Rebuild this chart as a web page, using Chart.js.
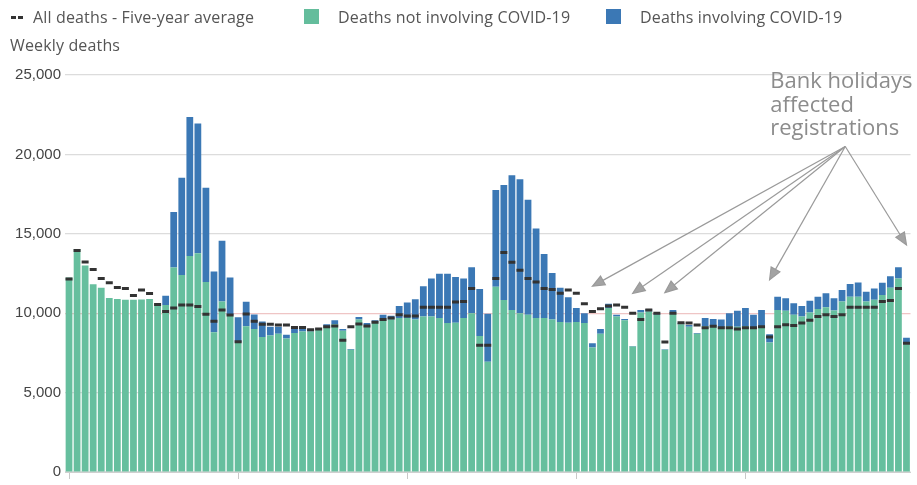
<!DOCTYPE html>
<html><head><meta charset="utf-8">
<script src="https://cdn.jsdelivr.net/npm/chart.js@4"></script>
<style>
html,body{margin:0;padding:0;background:#fff;overflow:hidden;}
#wrap{position:relative;width:917px;height:485px;}
canvas{position:absolute;left:0;top:0;}
.leg{position:absolute;font-family:"Open Sans",sans-serif;font-size:16px;letter-spacing:0.15px;color:#555;line-height:18px;white-space:nowrap;}
.sw{position:absolute;width:15px;height:15px;}
.dash{position:absolute;height:3px;width:5px;background:#333;}
</style></head>
<body><div id="wrap">
<canvas id="c" width="917" height="485"></canvas>
<div class="dash" style="left:11px;top:16px"></div>
<div class="dash" style="left:18px;top:16px"></div>
<div class="leg" id="l0" style="left:33px;top:8px"></div>
<div class="sw" style="left:304px;top:9px;background:#64bd9c"></div>
<div class="leg" id="l1" style="left:338px;top:8px"></div>
<div class="sw" style="left:606px;top:9px;background:#3b78b5"></div>
<div class="leg" id="l2" style="left:640px;top:8px"></div>
<div class="leg" id="yt" style="left:10px;top:36px"></div>
</div>
<script>
const years = [2020, 2021];
const weeksInYear = [53, 52];
const categories = [];
years.forEach((yr, i) => { for (let w = 1; w <= weeksInYear[i]; w++) categories.push(yr + ' week ' + w); });

const seriesLabels = ['All deaths - Five-year average', 'Deaths not involving COVID-19', 'Deaths involving COVID-19'];
const yAxisTitle = 'Weekly deaths';

const notCovid = [
 12250,14040,13000,11830,11600,10950,10900,10840,10840,10860,
 10900,10620,10520,12870,12400,13600,13780,11970,8800,10740,
 9860,8150,9180,9000,8500,8600,8700,8400,8750,8850,
 8850,8950,9200,9300,8900,7700,9600,9250,9400,9700,
 9600,9700,9700,9600,9800,9800,9700,9390,9400,9700,
 10000,8560,6950,11660,10830,10200,10000,9900,9700,9700,
 9600,9450,9400,9450,9390,7840,8700,10320,9800,9560,
 7900,10050,10100,9900,7700,10050,9300,9150,8700,9180,
 9200,9100,9200,9150,9200,9100,9150,8150,10200,10150,
 9900,9800,10050,10260,10380,10170,10730,11040,11040,10730,
 10840,11150,11600,12180,8040];

const covid = [
 0,0,0,0,0,0,0,0,0,0,
 0,0,580,3500,6130,8750,8170,5930,3830,3830,
 2390,1600,1540,920,970,550,450,250,300,250,
 150,100,100,250,100,50,160,140,150,200,
 240,760,970,1280,1900,2380,2790,3100,2880,2480,
 2900,2960,3020,6100,7240,8490,8440,7240,5640,4030,
 2930,2150,1600,870,610,260,300,270,100,80,
 40,150,160,100,30,150,90,100,60,520,
 440,500,800,1000,1120,800,1050,530,840,790,
 730,660,740,780,870,770,730,800,900,620,
 720,760,720,720,420];

const fiveYearAverage = [
 12150,13950,13220,12750,12180,11920,11620,11560,11120,11460,
 11240,10550,10110,10320,10520,10520,10420,9930,9500,10200,
 9880,8200,9950,9500,9300,9300,9250,9250,9100,9100,
 8950,9000,9150,9200,8300,9150,9320,9200,9430,9600,
 9700,9900,9820,9820,10380,10380,10380,10380,10700,10730,
 11560,7980,7980,12180,13830,13210,12700,12180,11970,11560,
 11500,11250,11460,11250,10600,10110,10280,10460,10520,10380,
 10000,9600,10200,10000,8190,10000,9400,9390,9250,9080,
 9180,9080,9080,9000,9080,9080,9140,8500,9140,9280,
 9220,9390,9550,9800,9900,9800,9900,10380,10380,10380,
 10380,10730,10800,11560,8100];

const yTickValues = [0, 5000, 10000, 15000, 20000, 25000];
const xTickEvery = 21;

const annotationText = ['Bank holidays', 'affected', 'registrations'];
const annotationOrigin = [96.4, 20500];
const bankHolidayBars = [65, 70, 74, 87, 104];
const bankHolidayArrowTips = [11700, 11250, 11300, 12100, 14300];

document.getElementById('l0').textContent = seriesLabels[0];
document.getElementById('l1').textContent = seriesLabels[1];
document.getElementById('l2').textContent = seriesLabels[2];
document.getElementById('yt').textContent = yAxisTitle;

const annotationPlugin = {
  id: 'bankHolidays',
  afterDatasetsDraw(chart) {
    const { ctx, scales: { x, y } } = chart;
    const ox = x.getPixelForValue(annotationOrigin[0]);
    const oy = y.getPixelForValue(annotationOrigin[1]);
    ctx.save();
    ctx.fillStyle = '#8c8c8c';
    ctx.font = '22px "Open Sans"';
    ctx.textAlign = 'left';
    ctx.textBaseline = 'alphabetic';
    annotationText.forEach((t, i) => ctx.fillText(t, ox - 75, oy - 58 + i * 23.5));
    ctx.strokeStyle = '#9a9a9a';
    ctx.fillStyle = '#a3a3a3';
    ctx.lineWidth = 1.2;
    bankHolidayBars.forEach((b, i) => {
      const tx = x.getPixelForValue(b), ty = y.getPixelForValue(bankHolidayArrowTips[i]);
      const ang = Math.atan2(ty - oy, tx - ox);
      const L = 12, W = 5;
      const bx = tx - L * Math.cos(ang), by = ty - L * Math.sin(ang);
      ctx.beginPath(); ctx.moveTo(ox, oy); ctx.lineTo(bx, by); ctx.stroke();
      ctx.beginPath();
      ctx.moveTo(tx, ty);
      ctx.lineTo(bx + W * Math.sin(ang), by - W * Math.cos(ang));
      ctx.lineTo(bx - W * Math.sin(ang), by + W * Math.cos(ang));
      ctx.closePath(); ctx.fill(); ctx.stroke();
    });
    ctx.restore();
  }
};

new Chart(document.getElementById('c'), {
  type: 'bar',
  data: {
    labels: categories,
    datasets: [
      { type: 'line', label: seriesLabels[0], data: fiveYearAverage, showLine: false,
        pointStyle: 'line', pointRadius: 3.5, pointHoverRadius: 3.5, pointBorderWidth: 3,
        pointBorderColor: '#333', pointBackgroundColor: '#333', borderColor: '#333',
        stack: 'avg', order: 0 },
      { label: seriesLabels[1], data: notCovid, backgroundColor: '#66bf9e', stack: 'deaths', order: 1,
        barPercentage: 0.84, categoryPercentage: 1 },
      { label: seriesLabels[2], data: covid, backgroundColor: '#3b78b5', stack: 'deaths', order: 2,
        barPercentage: 0.84, categoryPercentage: 1 }
    ]
  },
  options: {
    responsive: false, animation: false, devicePixelRatio: 1,
    layout: { padding: { top: 75, right: 0, bottom: 0, left: 0 } },
    plugins: { legend: { display: false }, tooltip: { enabled: false } },
    scales: {
      x: {
        stacked: true,
        grid: { offset: false, drawOnChartArea: false, drawTicks: true, tickLength: 7,
          color: c => (c.index % xTickEvery === 0 ? '#c8c8c8' : 'rgba(0,0,0,0)') },
        border: { display: true, color: '#cfcfcf' },
        ticks: { display: false, autoSkip: false }
      },
      y: {
        stacked: true, min: 0, max: 25000,
        afterBuildTicks: s => { s.ticks = yTickValues.map(v => ({ value: v })); },
        afterFit: s => { s.width = 65; },
        grid: { drawTicks: false, lineWidth: 1.2,
          color: c => (c.tick && c.tick.value === 10000 ? 'rgba(225,150,150,0.55)' : '#dcdcdc') },
        border: { display: false },
        ticks: { padding: 4, color: '#444', font: { family: '"Liberation Sans", Arial, sans-serif', size: 15 },
          callback: v => Number(v).toLocaleString('en-GB') }
      }
    }
  },
  plugins: [annotationPlugin]
});
</script>
</body></html>
